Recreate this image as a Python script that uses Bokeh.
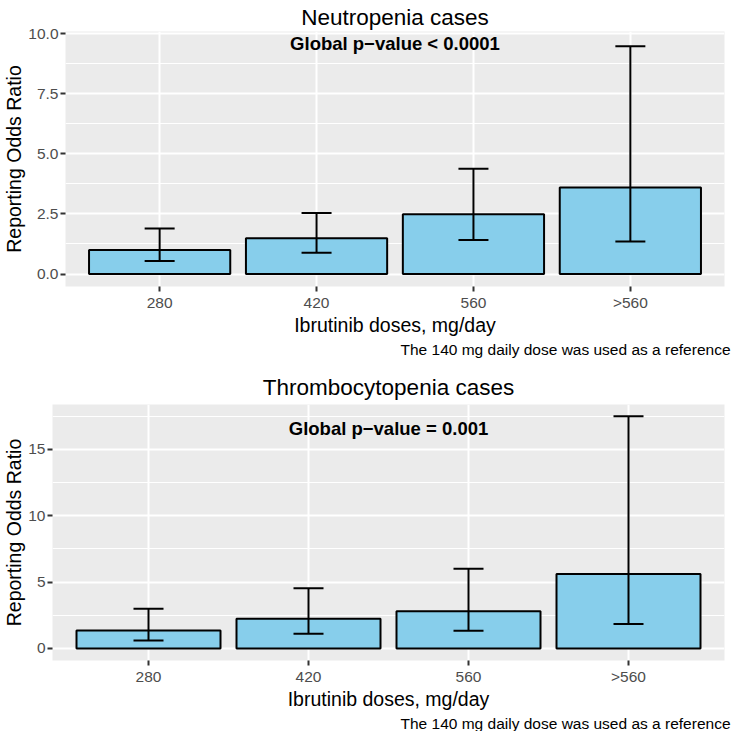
from bokeh.plotting import figure
from bokeh.layouts import column
from bokeh.models import (ColumnDataSource, FactorRange, Range1d, FixedTicker, Whisker,
                          TeeHead, Label, Title, NumeralTickFormatter)
from bokeh.embed import file_html
from bokeh.resources import INLINE

FONT = "Liberation Sans"

doses = ["280", "420", "560", ">560"]

# neutropenia: reporting odds ratio with 95% CI
neutro_ror = [1.0, 1.49, 2.49, 3.6]
neutro_lower = [0.54, 0.88, 1.41, 1.35]
neutro_upper = [1.89, 2.54, 4.38, 9.48]

# thrombocytopenia
thrombo_ror = [1.35, 2.24, 2.8, 5.62]
thrombo_lower = [0.59, 1.1, 1.33, 1.84]
thrombo_upper = [2.99, 4.54, 6.0, 17.5]

neutro_ticks = [0, 2.5, 5, 7.5, 10]
neutro_minor = [1.25, 3.75, 6.25, 8.75]
thrombo_ticks = [0, 5, 10, 15]
thrombo_minor = [2.5, 7.5, 12.5, 17.5]

CAPTION = "The 140 mg daily dose was used as a reference"


def panel(title, ror, lower, upper, yr, ticks, minor, fmt, ptext, py,
          height, top, bottom, left, title_gap):
    src = ColumnDataSource(dict(dose=doses, ror=ror, lower=lower, upper=upper))
    p = figure(x_range=FactorRange(factors=doses, range_padding=0.1,
                                   range_padding_units="absolute"),
               y_range=Range1d(*yr), width=731, height=height,
               output_backend="svg", toolbar_location=None,
               min_border_top=top, min_border_bottom=bottom,
               min_border_left=left, min_border_right=7)
    try:
        p.frame_align = False  # don't line up frames across the column
    except AttributeError:
        pass
    p.title.text = title
    p.title.align = "center"
    p.title.text_font = FONT
    p.title.text_font_size = "22.5px"
    p.title.text_font_style = "normal"
    p.title.text_color = "black"
    p.title.standoff = title_gap

    p.background_fill_color = "#EBEBEB"
    p.border_fill_color = "white"
    p.outline_line_color = None

    p.xgrid.grid_line_color = "white"
    p.xgrid.grid_line_width = 2
    p.ygrid.grid_line_color = "white"
    p.ygrid.grid_line_width = 2
    p.ygrid.minor_grid_line_color = "white"
    p.ygrid.minor_grid_line_width = 1

    p.yaxis.ticker = FixedTicker(ticks=ticks, minor_ticks=minor)
    p.yaxis.formatter = NumeralTickFormatter(format=fmt)

    for ax in (p.xaxis, p.yaxis):
        ax.axis_line_color = None
        ax.major_tick_line_color = "#333333"
        ax.major_tick_line_width = 2
        ax.major_tick_in = 0
        ax.major_tick_out = 5
        ax.minor_tick_line_color = None
        ax.major_label_text_color = "#4D4D4D"
        ax.major_label_text_font = FONT
        ax.major_label_text_font_size = "15.5px"
        ax.axis_label_text_font = FONT
        ax.axis_label_text_font_size = "19.5px"
        ax.axis_label_text_font_style = "normal"
        ax.axis_label_text_color = "black"
    p.xaxis.axis_label = "Ibrutinib doses, mg/day"
    p.yaxis.axis_label = "Reporting Odds Ratio"
    p.xaxis.major_label_standoff = 2
    p.yaxis.major_label_standoff = 2
    p.xaxis.axis_label_standoff = 0
    p.yaxis.axis_label_standoff = 0

    p.vbar(x="dose", top="ror", bottom=0, width=0.9, source=src,
           fill_color="#87CEEB", line_color="black", line_width=2)

    w = Whisker(base="dose", upper="upper", lower="lower", source=src,
                line_color="black", line_width=2, level="annotation",
                upper_head=TeeHead(size=30, line_color="black", line_width=2),
                lower_head=TeeHead(size=30, line_color="black", line_width=2))
    p.add_layout(w)

    p.add_layout(Label(x=2.0, y=py, text=ptext, text_align="center",
                       text_baseline="middle", text_font=FONT,
                       text_font_size="18.5px", text_font_style="bold",
                       text_color="black"))

    p.add_layout(Title(text=CAPTION, align="right", text_font=FONT,
                       text_font_size="15.5px", text_font_style="normal",
                       text_color="black", standoff=0, offset=-6), "below")
    return p


p1 = panel("Neutropenia cases", neutro_ror, neutro_lower, neutro_upper,
           (-0.52, 10.09), neutro_ticks, neutro_minor, "0.0",
           "Global p\u2212value < 0.0001", 9.6, 364, 30, 78, 62, 4)
p2 = panel("Thrombocytopenia cases", thrombo_ror, thrombo_lower, thrombo_upper,
           (-0.91, 18.39), thrombo_ticks, thrombo_minor, "0",
           "Global p\u2212value = 0.001", 16.6, 367, 40, 71, 49, 10)

p = column(p1, p2)
open("out.html", "w").write(file_html(p, INLINE))
